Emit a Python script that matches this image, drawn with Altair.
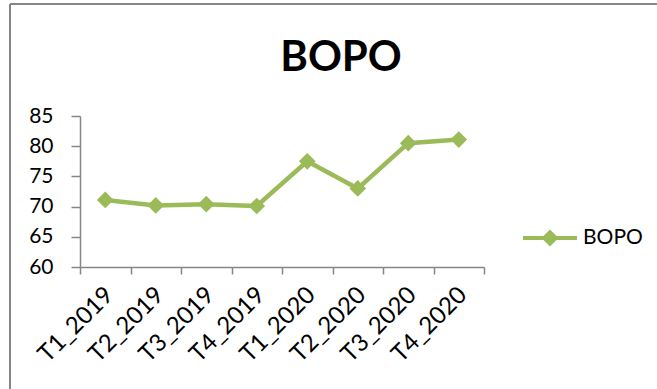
import altair as alt
import pandas as pd

quarters = ["T1_2019", "T2_2019", "T3_2019", "T4_2019", "T1_2020", "T2_2020", "T3_2020", "T4_2020"]
bopo = [71.1, 70.2, 70.4, 70.1, 77.5, 73.0, 80.5, 81.1]
series = ["BOPO"] * len(quarters)

df = pd.DataFrame({"quarter": quarters, "value": bopo, "series": series})

GREEN = "#9BBB59"
GRAY = "#868686"
FONT = "Lato"

legend_path = ("M-1,-0.074 L-0.241,-0.074 L0,-0.315 L0.241,-0.074 L1,-0.074 "
               "L1,0.074 L0.241,0.074 L0,0.315 L-0.241,0.074 L-1,0.074 Z")

x_enc = alt.X("quarter:N", sort=quarters, title=None,
              scale=alt.Scale(type="band", paddingInner=0, paddingOuter=0),
              axis=alt.Axis(labelAngle=-45, labelAlign="right", labelBaseline="middle",
                            labelFont=FONT, labelFontSize=24, labelColor="#000000",
                            domainColor=GRAY, domainWidth=1.5, tickColor=GRAY, tickWidth=1.5,
                            tickSize=7, tickBand="extent", labelPadding=17, labelOffset=4,
                            grid=False))
y_enc = alt.Y("value:Q", title=None,
              scale=alt.Scale(domain=[60, 85], nice=False, zero=False),
              axis=alt.Axis(values=[60, 65, 70, 75, 80, 85], labelFont=FONT, labelFontSize=21,
                            labelColor="#000000", domainColor=GRAY, domainWidth=1.5,
                            tickColor=GRAY, tickWidth=1.5, tickSize=9, labelPadding=18, grid=False))

base = alt.Chart(df)

line = base.mark_line(color=GREEN, strokeWidth=4.5).encode(x=x_enc, y=y_enc)
points = base.mark_point(shape="diamond", filled=True, size=280, opacity=1).encode(
    x=x_enc, y=y_enc,
    color=alt.Color("series:N", scale=alt.Scale(range=[GREEN]),
                    legend=alt.Legend(title=None, orient="none", legendX=443, legendY=95,
                                      symbolType=legend_path, symbolSize=2916,
                                      symbolStrokeWidth=0, symbolFillColor=GREEN,
                                      labelFont=FONT, labelFontSize=21, labelColor="#000000",
                                      labelOffset=6, padding=0)))

frame_top = alt.Chart(df).mark_rule(color=GRAY, strokeWidth=2).encode(
    x=alt.value(-70), x2=alt.value(700), y=alt.value(-112))
frame_left = alt.Chart(df).mark_rule(color=GRAY, strokeWidth=2).encode(
    x=alt.value(-70), y=alt.value(-112), y2=alt.value(400))

chart = alt.layer(frame_top, frame_left, line, points).properties(
    width=404, height=151,
    autosize=alt.AutoSizeParams(type="none"),
    padding={"left": 80, "top": 116, "right": 173, "bottom": 122},
    title=alt.TitleParams("BOPO", font=FONT, fontSize=42, fontWeight="bold", color="#000000",
                          anchor="middle", frame="group", dx=59, offset=-110, baseline="alphabetic"),
).configure_view(stroke=None)

chart.save("out.html", embed_options={"renderer": "svg", "actions": False})
